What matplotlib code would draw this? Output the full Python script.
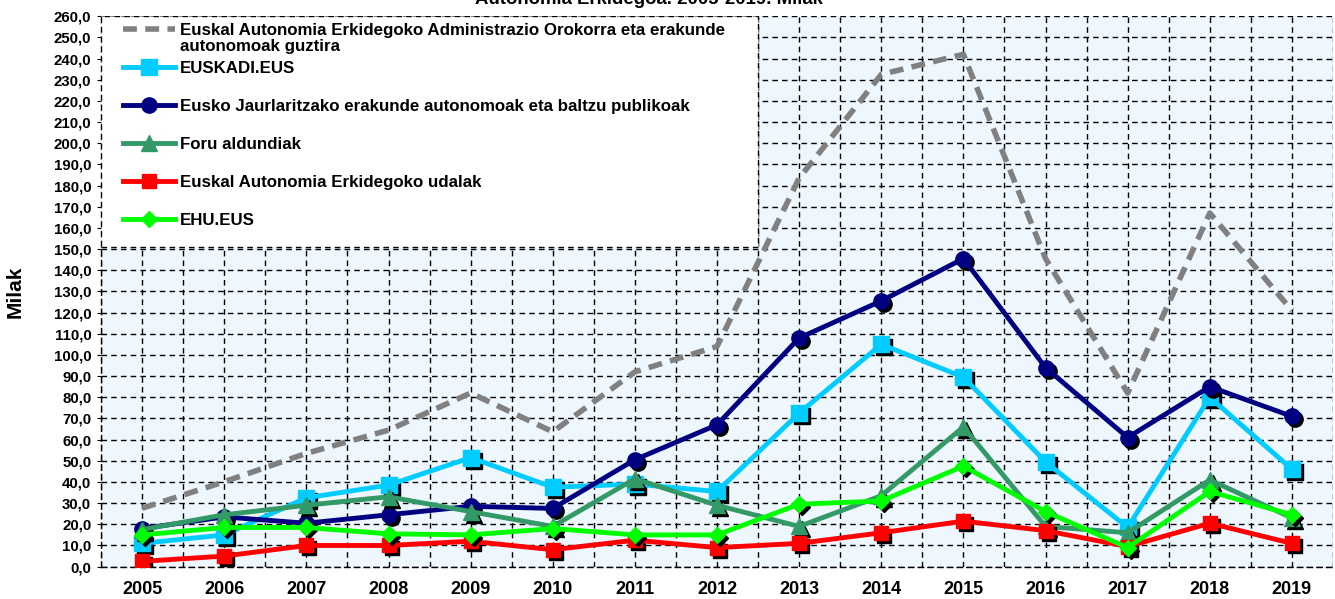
import matplotlib
matplotlib.use('Agg')
import matplotlib.pyplot as plt
import matplotlib.transforms as mtransforms
from matplotlib.patches import Rectangle
from matplotlib.ticker import MultipleLocator, FuncFormatter

plt.rcParams['font.family'] = ['Liberation Sans', 'DejaVu Sans']
plt.rcParams['font.weight'] = 'bold'

years = list(range(2005, 2020))

# Milak
guztira = [27.6, 40.1, 53.5, 64.5, 82.0, 63.7, 92.0, 104.0, 183.5, 232.5, 242.0, 145.5, 82.0, 167.0, 121.0]
euskadi_eus = [11.0, 15.0, 32.5, 38.5, 51.5, 37.5, 39.0, 35.5, 72.5, 105.0, 89.5, 49.5, 18.5, 80.0, 46.0]
jaurlaritza = [18.0, 23.5, 20.5, 24.5, 28.5, 27.5, 50.5, 67.0, 108.0, 125.5, 145.5, 94.0, 61.0, 85.0, 71.0]
foru = [17.5, 24.5, 29.0, 33.0, 26.0, 19.0, 41.5, 29.0, 19.0, 33.5, 66.0, 19.0, 16.0, 41.0, 23.0]
udalak = [2.5, 5.0, 10.0, 10.0, 12.0, 8.0, 12.5, 9.0, 11.0, 16.0, 21.5, 17.0, 9.5, 20.5, 11.0]
ehu_eus = [15.0, 18.5, 18.5, 15.5, 15.0, 18.0, 15.0, 15.0, 29.5, 31.0, 47.5, 26.0, 9.0, 35.5, 24.5]

labels = [
    'Euskal Autonomia Erkidegoko Administrazio Orokorra eta erakunde',
    'EUSKADI.EUS',
    'Eusko Jaurlaritzako erakunde autonomoak eta baltzu publikoak',
    'Foru aldundiak',
    'Euskal Autonomia Erkidegoko udalak',
    'EHU.EUS',
]
label1_line2 = 'autonomoak guztira'

series = [guztira, euskadi_eus, jaurlaritza, foru, udalak, ehu_eus]
colors = ['#808080', '#00CCFF', '#000080', '#339966', '#FF0000', '#00FF00']
markers = [None, 's', 'o', '^', 's', 'D']
msizes = [0, 11, 11, 11, 10, 8.5]

fig = plt.figure(figsize=(13.35, 5.99), dpi=100)
ax = fig.add_axes([0.0757, 0.054, 0.9228, 0.919])
ax.set_facecolor('#EEF7FE')

shadow = mtransforms.offset_copy(ax.transData, fig=fig, x=3, y=-3, units='dots')

for i, (vals, col, mk, ms, lab) in enumerate(zip(series, colors, markers, msizes, labels)):
    z = 3 + i
    if mk is None:
        ax.plot(years, vals, color=col, lw=4, ls=(0, (2.5, 1.5)), label=lab, zorder=z)
        continue
    ax.plot(years, vals, ls='none', marker=mk, ms=ms, color='black', transform=shadow, zorder=z)
    ax.plot(years, vals, color=col, lw=3.5, marker=mk, ms=ms, mec=col, label=lab, zorder=z)

ax.set_xlim(2004.5, 2019.5)
ax.set_ylim(0, 260)
ax.set_xticks(years)
ax.xaxis.set_minor_locator(MultipleLocator(0.5))
ax.yaxis.set_major_locator(MultipleLocator(10))
ax.yaxis.set_major_formatter(FuncFormatter(lambda v, p: f'{v:.1f}'.replace('.', ',')))
ax.grid(True, which='both', axis='x', color='black', ls=(0, (4, 3)), lw=1)
ax.grid(True, which='major', axis='y', color='black', ls=(0, (4, 3)), lw=1)
ax.set_axisbelow(True)
ax.tick_params(axis='x', which='both', length=0, labelsize=13, pad=10)
ax.tick_params(axis='y', length=3, labelsize=10.8, pad=4)
for sp in ax.spines.values():
    sp.set_linestyle((0, (4, 3)))
    sp.set_linewidth(1)
ax.spines['right'].set_visible(False)
ax.spines['top'].set_visible(False)

ax.set_ylabel('Milak', fontsize=15, fontweight='bold')
ax.yaxis.set_label_coords(-0.0617, 0.5)

# legend box (white, dashed) behind the legend entries
box = Rectangle((0, 0.5805), 0.533, 0.4195, transform=ax.transAxes, facecolor='white',
                edgecolor='black', lw=1, ls=(0, (4, 3)), zorder=19)
ax.add_patch(box)

leg = ax.legend(loc='upper left', bbox_to_anchor=(0.0179, 0.987), borderaxespad=0, borderpad=0,
                fontsize=12.2, handlelength=3.05, labelspacing=1.35, handletextpad=0.3,
                frameon=False)
leg.set_zorder(20)

ax.annotate(label1_line2, xy=(0, 0), xycoords=leg.get_texts()[0], xytext=(0, -0.5),
            textcoords='offset points', ha='left', va='top', fontsize=12.2,
            fontweight='bold', zorder=21)

fig.text(0.486, 0.993, 'Autonomia Erkidegoa. 2005-2019. Milak', ha='center', va='baseline',
         fontsize=13.4, fontweight='bold')

fig.savefig('out.png', dpi=100)
